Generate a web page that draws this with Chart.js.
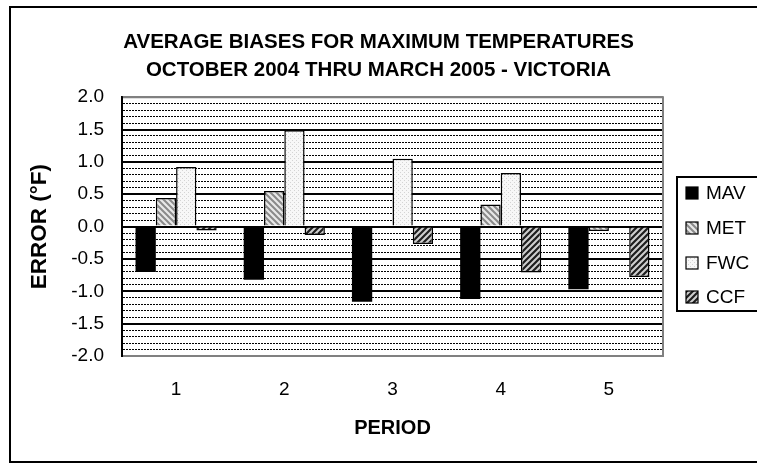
<!DOCTYPE html>
<html>
<head>
<meta charset="utf-8">
<script src="https://cdn.jsdelivr.net/npm/chart.js@4/dist/chart.umd.min.js"></script>
<style>
  html, body { margin: 0; padding: 0; background: #fff; }
  #wrap { width: 757px; height: 464px; }
</style>
</head>
<body>
<div id="wrap"><canvas id="c" width="757" height="464"></canvas></div>
<script>
const periods = ['1', '2', '3', '4', '5'];
const seriesNames = ['MAV', 'MET', 'FWC', 'CCF'];
const mav = [-0.70, -0.82, -1.16, -1.12, -0.97];
const met = [0.44, 0.55, 0.00, 0.34, -0.07];
const fwc = [0.92, 1.49, 1.05, 0.83, 0.00];
const ccf = [-0.06, -0.13, -0.27, -0.71, -0.78];
const yMin = -2.0, yMax = 2.0, yMinorStep = 0.1, yMajorStep = 0.5;
const titleLines = ['AVERAGE BIASES FOR MAXIMUM TEMPERATURES', 'OCTOBER 2004 THRU MARCH 2005 - VICTORIA'];
const yTitle = 'ERROR (°F)';
const xTitle = 'PERIOD';

const FONT = "'Liberation Sans', Arial, sans-serif";

function makePattern(draw, size) {
  const c = document.createElement('canvas');
  c.width = size; c.height = size;
  const g = c.getContext('2d');
  draw(g, size);
  return g.createPattern(c, 'repeat');
}

const metPattern = makePattern((g, s) => {
  g.fillStyle = '#e8e8e8'; g.fillRect(0, 0, s, s);
  g.strokeStyle = '#8a8a8a'; g.lineWidth = 2;
  g.beginPath();
  g.moveTo(-1, -1); g.lineTo(s + 1, s + 1);
  g.moveTo(-1, s - 1); g.lineTo(1, s + 1);
  g.moveTo(s - 1, -1); g.lineTo(s + 1, 1);
  g.stroke();
}, 6);

const ccfPattern = makePattern((g, s) => {
  g.fillStyle = '#cfcfcf'; g.fillRect(0, 0, s, s);
  g.strokeStyle = '#1e1e1e'; g.lineWidth = 2.2;
  g.beginPath();
  g.moveTo(-1, s + 1); g.lineTo(s + 1, -1);
  g.moveTo(-1, 1); g.lineTo(1, -1);
  g.moveTo(s - 1, s + 1); g.lineTo(s + 1, s - 1);
  g.stroke();
}, 6);

const fwcPattern = makePattern((g, s) => {
  g.fillStyle = '#f7f7f7'; g.fillRect(0, 0, s, s);
  g.fillStyle = '#d4d4d4';
  g.fillRect(0, 0, 1, 1);
  g.fillRect(2, 2, 1, 1);
}, 4);

const isMajor = v => Math.abs(v / yMajorStep - Math.round(v / yMajorStep)) < 1e-6;

const frame = {
  id: 'frame',
  afterDraw(chart) {
    const { ctx, chartArea: a } = chart;
    ctx.save();
    ctx.strokeStyle = '#808080';
    ctx.lineWidth = 2;
    ctx.beginPath();
    ctx.moveTo(a.left, a.top);
    ctx.lineTo(a.right, a.top);
    ctx.lineTo(a.right, a.bottom);
    ctx.lineTo(a.left, a.bottom);
    ctx.stroke();
    ctx.strokeStyle = '#000';
    ctx.beginPath();
    ctx.moveTo(a.left, a.top - 1);
    ctx.lineTo(a.left, a.bottom + 1);
    ctx.stroke();
    ctx.lineWidth = 2;
    ctx.strokeRect(10, 7, 760, 455);
    const lx = 677, ly = 177, lw = 90, lh = 134;
    ctx.strokeRect(lx, ly, lw, lh);
    const rowY = [193, 228, 263, 297];
    ctx.font = '19px ' + FONT;
    ctx.textBaseline = 'middle';
    ctx.textAlign = 'left';
    chart.data.datasets.forEach((ds, i) => {
      const y = rowY[i];
      ctx.fillStyle = ds.backgroundColor;
      ctx.fillRect(686, y - 6, 12, 12);
      ctx.strokeStyle = '#000';
      ctx.lineWidth = 1.2;
      ctx.strokeRect(686, y - 6, 12, 12);
      ctx.fillStyle = '#000';
      ctx.fillText(ds.label, 706, y + 1);
    });
    ctx.restore();
  }
};

new Chart(document.getElementById('c'), {
  type: 'bar',
  data: {
    labels: periods,
    datasets: [
      { label: seriesNames[0], data: mav, backgroundColor: '#000000', borderColor: '#000', borderWidth: 0 },
      { label: seriesNames[1], data: met, backgroundColor: metPattern, borderColor: '#000', borderWidth: 1.5 },
      { label: seriesNames[2], data: fwc, backgroundColor: fwcPattern, borderColor: '#000', borderWidth: 1.5 },
      { label: seriesNames[3], data: ccf, backgroundColor: ccfPattern, borderColor: '#000', borderWidth: 1.5 }
    ]
  },
  options: {
    responsive: false,
    animation: false,
    devicePixelRatio: 1,
    layout: { padding: { left: 10, right: 10, top: 0, bottom: 0 } },
    datasets: { bar: { categoryPercentage: 0.75, barPercentage: 1.0 } },
    plugins: {
      legend: { display: false },
      tooltip: { enabled: false },
      title: {
        display: true,
        text: titleLines,
        color: '#000',
        font: { family: FONT, size: 20.5, weight: 'bold', lineHeight: 1.37 },
        padding: { top: 28, bottom: 13 }
      }
    },
    scales: {
      x: {
        grid: { display: false, drawTicks: false },
        border: { display: true, color: '#808080', width: 2 },
        ticks: { color: '#000', font: { family: FONT, size: 19 }, padding: 22 },
        title: { display: true, text: xTitle, color: '#000', font: { family: FONT, size: 20, weight: 'bold', lineHeight: 1.2 }, padding: { top: 0, bottom: 24 } },
        afterFit(s) { s.height = 108; }
      },
      y: {
        min: yMin, max: yMax,
        grid: {
          drawTicks: false,
          color: c => {
            if (c.type !== 'tick') return '#000';
            const v = c.tick.value;
            if (Math.abs(v - yMax) < 1e-6 || Math.abs(v - yMin) < 1e-6) return '#808080';
            return '#000';
          },
          lineWidth: c => (c.type === 'tick' && isMajor(c.tick.value)) ? 2 : 1
        },
        border: {
          display: true, color: '#000', width: 2,
          dash: c => (c.type === 'tick' && !isMajor(c.tick.value)) ? [2, 1] : []
        },
        ticks: {
          stepSize: yMinorStep,
          autoSkip: false,
          color: '#000',
          padding: 18,
          font: { family: FONT, size: 19 },
          callback: v => isMajor(v) ? (Math.abs(v) < 1e-9 ? 0 : v).toFixed(1) : ''
        },
        title: { display: true, text: yTitle, color: '#000', font: { family: FONT, size: 22.5, weight: 'bold', lineHeight: 1.2 }, padding: { top: 16, bottom: 0 } },
        afterFit(s) { s.width = 112; }
      },
      yRight: {
        position: 'right',
        display: true,
        min: yMin, max: yMax,
        grid: { display: false, drawTicks: false },
        border: { display: false },
        ticks: { display: false },
        afterFit(s) { s.width = 84; }
      }
    }
  },
  plugins: [frame]
});
</script>
</body>
</html>
